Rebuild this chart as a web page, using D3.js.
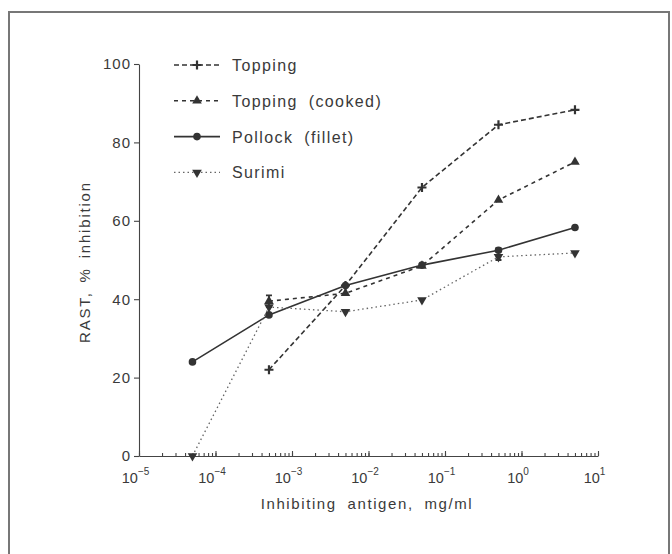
<!DOCTYPE html>
<html>
<head>
<meta charset="utf-8">
<script src="https://cdn.jsdelivr.net/npm/d3@7"></script>
<style>
  body { margin: 0; background: #fff; }
  svg { display: block; }
  text { font-family: "Liberation Sans", Arial, sans-serif; fill: #3a3a3a; }
</style>
</head>
<body>
<svg width="672" height="554"></svg>
<script>
const W = 672, H = 554;

// concentrations, mg/ml
const conc = [5e-5, 5e-4, 5e-3, 5e-2, 5e-1, 5];

const topping       = [null, 22, 43.5, 68.5, 84.5, 88.3];
const toppingCooked = [null, 39.5, 41.5, 48.5, 65.3, 75];
const pollock       = [24, 36, 43.5, 48.7, 52.5, 58.3];
const surimi        = [0, 38, 36.8, 39.8, 50.8, 51.8];

// small error bars seen on the plot: [series, x, low, high]
const errBars = [
  ["cooked", 5e-4, 38, 41],
  ["surimi", 5e-1, 50, 53]
];

const yTicks = [0, 20, 40, 60, 80, 100];
const decades = [-5, -4, -3, -2, -1, 0, 1];

const series = [
  {key: "topping", name: "Topping", vals: topping, dash: "5,3", marker: "plus", w: 1.6},
  {key: "cooked", name: "Topping (cooked)", vals: toppingCooked, dash: "4,4", marker: "tri", w: 1.6},
  {key: "pollock", name: "Pollock (fillet)", vals: pollock, dash: null, marker: "circle", w: 1.6},
  {key: "surimi", name: "Surimi", vals: surimi, dash: "1.5,3", marker: "tridown", w: 1.3}
];

const svg = d3.select("svg");

// frame around the figure
svg.append("rect")
  .attr("x", 9).attr("y", 12)
  .attr("width", 660).attr("height", 560)
  .attr("fill", "none")
  .attr("stroke", "#777")
  .attr("stroke-width", 2);

const x = d3.scaleLog().domain([1e-5, 10]).range([139, 598]);
const y = d3.scaleLinear().domain([0, 100]).range([456, 64]);

// x axis: minor ticks
let minor = [];
decades.forEach(e => {
  for (let m = 1; m < 10; m++) {
    const v = m * Math.pow(10, e);
    if (v <= 10) minor.push(v);
  }
});

const gx = svg.append("g")
  .attr("transform", `translate(0,${y(0)})`)
  .call(d3.axisBottom(x).tickValues(minor).tickSize(-3).tickSizeOuter(0).tickFormat(""));

const gxMaj = svg.append("g")
  .attr("transform", `translate(0,${y(0)})`)
  .call(d3.axisBottom(x).tickValues(decades.map(e => Math.pow(10, e))).tickSize(-5).tickSizeOuter(0).tickFormat(""));
gxMaj.select(".domain").remove();

[gx, gxMaj].forEach(g => {
  g.selectAll("path, line").attr("stroke", "#444").attr("stroke-width", 1.1);
});

// decade labels with superscripts
gxMaj.selectAll(".tick").append("text")
  .attr("y", 27)
  .attr("x", -4)
  .attr("text-anchor", "middle")
  .style("font-size", "14.5px")
  .attr("fill", "#3a3a3a")
  .each(function(d) {
    const t = d3.select(this);
    const e = Math.round(Math.log10(d));
    t.append("tspan").text("10");
    t.append("tspan")
      .attr("dy", -8)
      .style("font-size", "10px")
      .text(e < 0 ? "\u2212" + Math.abs(e) : e);
  });

// y axis
const gy = svg.append("g")
  .attr("transform", `translate(${x(1e-5)},0)`)
  .call(d3.axisLeft(y).tickValues(yTicks).tickSize(5).tickSizeOuter(0).tickPadding(3));
gy.selectAll("path, line").attr("stroke", "#444").attr("stroke-width", 1.1);
gy.selectAll("text")
  .style("font-size", "15px")
  .style("letter-spacing", "1px")
  .attr("fill", "#3a3a3a")
  .style("font-family", "'Liberation Sans', Arial, sans-serif");

// axis titles
svg.append("text")
  .attr("x", 367).attr("y", 509)
  .attr("text-anchor", "middle")
  .style("font-size", "15px")
  .style("letter-spacing", "1.6px")
  .style("word-spacing", "5px")
  .text("Inhibiting antigen, mg/ml");

svg.append("text")
  .attr("transform", `translate(90,262) rotate(-90)`)
  .attr("text-anchor", "middle")
  .style("font-size", "15px")
  .style("letter-spacing", "1.8px")
  .style("word-spacing", "3px")
  .text("RAST, % inhibition");

// markers
function drawMarker(g, type, cx, cy) {
  const col = "#333";
  if (type === "plus") {
    g.append("path")
      .attr("d", `M${cx - 4.5},${cy}H${cx + 4.5}M${cx},${cy - 4.5}V${cy + 4.5}`)
      .attr("stroke", col).attr("stroke-width", 2.2);
  } else if (type === "circle") {
    g.append("circle").attr("cx", cx).attr("cy", cy).attr("r", 3.8).attr("fill", col);
  } else {
    const sym = d3.symbol().type(d3.symbolTriangle).size(40);
    g.append("path")
      .attr("d", sym())
      .attr("fill", col)
      .attr("transform", `translate(${cx},${cy}) rotate(${type === "tridown" ? 180 : 0})`);
  }
}

const line = d3.line()
  .defined(d => d.v != null)
  .x(d => x(d.c))
  .y(d => y(d.v));

series.forEach(s => {
  const pts = conc.map((c, i) => ({c: c, v: s.vals[i]}));
  const g = svg.append("g").attr("class", "series-" + s.key);
  g.append("path")
    .datum(pts)
    .attr("d", line)
    .attr("fill", "none")
    .attr("stroke", s.key === "surimi" ? "#666" : "#333")
    .attr("stroke-width", s.w)
    .attr("stroke-dasharray", s.dash);
  pts.filter(p => p.v != null).forEach(p => drawMarker(g, s.marker, x(p.c), y(p.v)));
});

// error bars
errBars.forEach(e => {
  const cx = x(e[1]);
  svg.append("path")
    .attr("d", `M${cx - 3},${y(e[2])}H${cx + 3}M${cx},${y(e[2])}V${y(e[3])}M${cx - 3},${y(e[3])}H${cx + 3}`)
    .attr("stroke", "#333").attr("stroke-width", 1.8).attr("fill", "none");
});

// legend
const legend = svg.append("g");
series.forEach((s, i) => {
  const ly = 65 + i * 35.8;
  legend.append("line")
    .attr("x1", 174).attr("x2", 220)
    .attr("y1", ly).attr("y2", ly)
    .attr("stroke", s.key === "surimi" ? "#666" : "#333")
    .attr("stroke-width", s.w)
    .attr("stroke-dasharray", s.dash);
  drawMarker(legend, s.marker, 197, ly);
  legend.append("text")
    .attr("x", 232).attr("y", ly + 6)
    .style("font-size", "16px")
    .style("letter-spacing", "1.4px")
    .style("word-spacing", "5px")
    .text(s.name);
});
</script>
</body>
</html>
